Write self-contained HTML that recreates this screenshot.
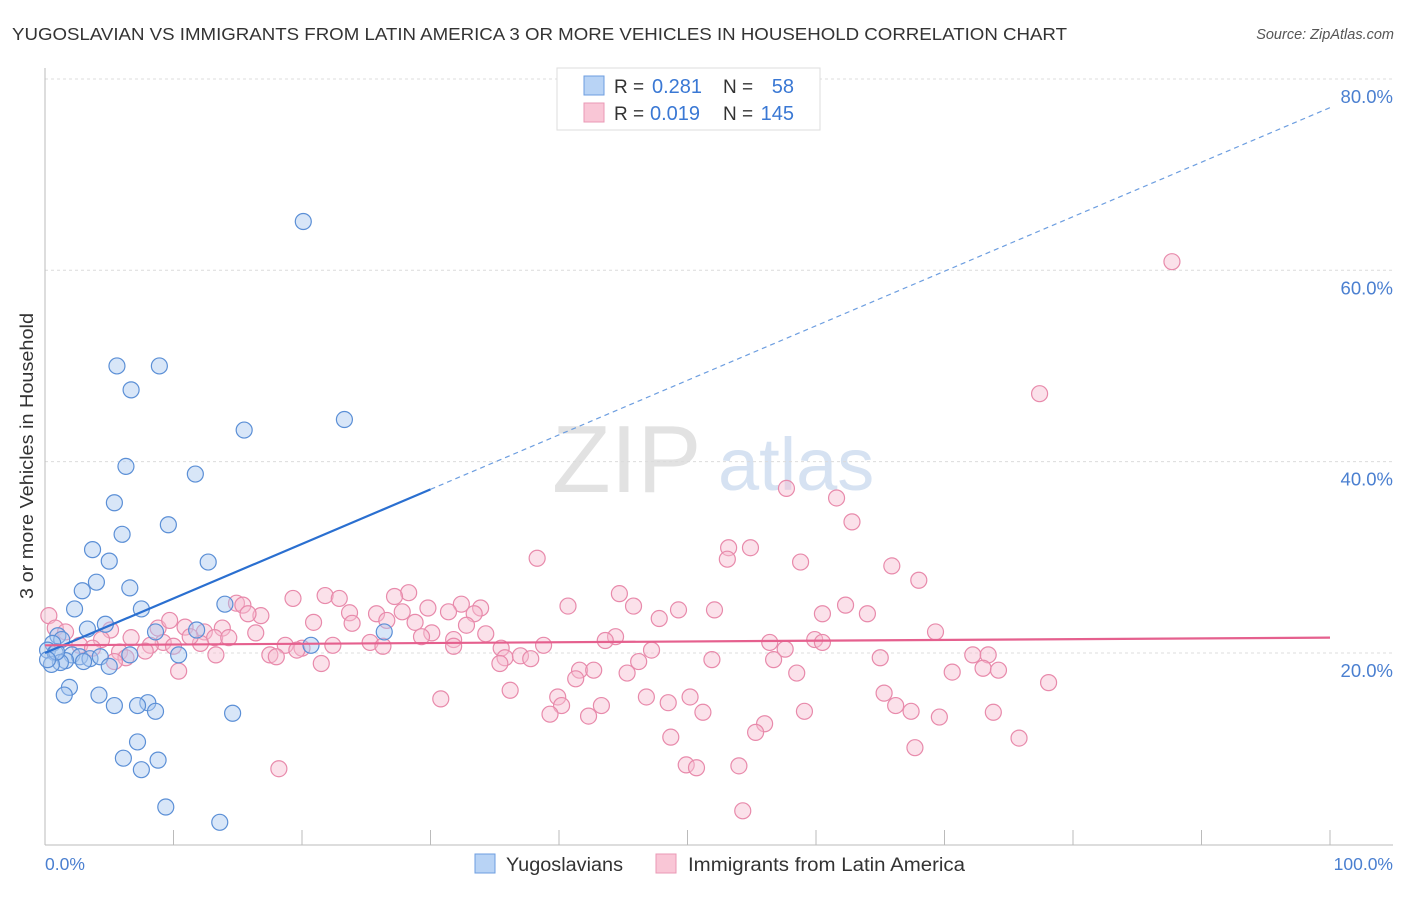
<!DOCTYPE html>
<html><head><meta charset="utf-8"><style>
body{margin:0;background:#fff;font-family:"Liberation Sans",sans-serif;}
svg text{font-family:"Liberation Sans",sans-serif;}
</style></head><body>
<svg width="1406" height="892" xmlns="http://www.w3.org/2000/svg">
<text x="12" y="40" font-size="17.5" fill="#333" textLength="1055" lengthAdjust="spacingAndGlyphs">YUGOSLAVIAN VS IMMIGRANTS FROM LATIN AMERICA 3 OR MORE VEHICLES IN HOUSEHOLD CORRELATION CHART</text>
<text x="1394" y="39" font-size="14.5" fill="#555" font-style="italic" text-anchor="end">Source: ZipAtlas.com</text>
<g>
<text x="552" y="492" font-size="96" fill="#e2e2e2" font-family="Liberation Serif, serif">ZIP</text>
<text x="718" y="490" font-size="74" fill="#d6e2f2">atlas</text>
</g>
<g id="grid"></g>
<g id="axes"></g>
<g id="pts"></g>
<g id="lines"></g>
<text x="33" y="456" font-size="18" fill="#333" text-anchor="middle" textLength="286" lengthAdjust="spacingAndGlyphs" transform="rotate(-90 33 456)">3 or more Vehicles in Household</text>
<text x="45" y="870" font-size="17.5" fill="#4a7fd0">0.0%</text>
<text x="1393" y="870" font-size="17.5" fill="#4a7fd0" text-anchor="end">100.0%</text>
<g>
<rect x="557" y="68" width="263" height="62" fill="#fff" stroke="#ddd"/>
<rect x="584" y="76" width="20" height="19" fill="#b8d3f5" stroke="#6d9ee0"/>
<rect x="584" y="103" width="20" height="19" fill="#f9c6d6" stroke="#ea98b5"/>
<text x="614" y="93" font-size="19" fill="#333">R =</text>
<text x="652" y="93" font-size="20" fill="#3a78d4">0.281</text>
<text x="723" y="93" font-size="19" fill="#333">N =</text>
<text x="794" y="93" font-size="20" fill="#3a78d4" text-anchor="end">58</text>
<text x="614" y="120" font-size="19" fill="#333">R =</text>
<text x="650" y="120" font-size="20" fill="#3a78d4">0.019</text>
<text x="723" y="120" font-size="19" fill="#333">N =</text>
<text x="794" y="120" font-size="20" fill="#3a78d4" text-anchor="end">145</text>
</g>
<g>
<rect x="475" y="854" width="20" height="19" fill="#b8d3f5" stroke="#6d9ee0"/>
<text x="506" y="871" font-size="19" fill="#333" textLength="117" lengthAdjust="spacingAndGlyphs">Yugoslavians</text>
<rect x="656" y="854" width="20" height="19" fill="#f9c6d6" stroke="#ea98b5"/>
<text x="688" y="871" font-size="19" fill="#333" textLength="277" lengthAdjust="spacingAndGlyphs">Immigrants from Latin America</text>
</g>
</svg>
<script>
const yTicks=[20,40,60,80];
const yTickLabels=["20.0%","40.0%","60.0%","80.0%"];
const xTicks=[10,20,30,40,50,60,70,80,90,100];
const blueX=[20.1,5.6,8.9,6.7,15.5,23.3,6.3,11.7,5.4,9.6,6.0,3.7,5.0,12.7,4.0,2.9,6.6,2.3,7.5,14.0,4.7,3.3,11.8,8.6,26.4,1.0,1.3,0.6,20.7,0.2,0.8,2.1,2.7,3.5,4.3,1.6,3.0,10.4,6.6,1.2,0.5,5.0,1.9,1.5,4.2,8.0,5.4,7.2,8.6,14.6,7.2,6.1,8.8,7.5,9.4,13.6,0.9,0.2];
const blueY=[65.1,50.0,50.0,47.5,43.3,44.4,39.5,38.7,35.7,33.4,32.4,30.8,29.6,29.5,27.4,26.5,26.8,24.6,24.6,25.1,23.0,22.5,22.4,22.2,22.2,21.8,21.4,21.0,20.8,20.3,20.0,19.8,19.6,19.4,19.6,19.2,19.1,19.8,19.8,19.0,18.8,18.6,16.4,15.6,15.6,14.8,14.5,14.5,13.9,13.7,10.7,9.0,8.8,7.8,3.9,2.3,20.1,19.3];
const pinkX=[87.7,77.4,57.7,61.6,62.8,53.2,54.9,53.1,38.3,58.8,65.9,68.0,44.7,28.3,21.8,19.3,27.2,22.9,40.7,45.8,62.3,32.4,33.9,29.8,52.1,49.3,60.5,64.0,14.9,15.4,16.8,15.8,23.7,25.8,27.8,31.4,33.4,47.8,23.9,20.9,26.6,28.8,32.8,0.3,0.8,1.6,5.1,8.8,10.9,12.4,13.8,16.4,30.1,34.3,44.4,69.3,4.4,6.7,9.2,13.2,25.3,29.3,31.8,43.6,56.4,59.9,60.5,2.7,3.7,8.2,10.0,12.1,18.7,20.0,22.4,26.3,31.8,38.8,5.8,7.8,17.5,19.6,35.5,47.2,57.6,72.2,73.4,6.3,13.3,18.0,35.8,37.0,37.8,51.9,56.7,65.0,46.2,21.5,35.4,5.4,73.0,74.2,10.4,41.6,42.7,45.3,58.5,70.6,41.3,78.1,36.2,65.3,39.9,46.8,50.2,30.8,40.2,48.5,66.2,67.4,43.3,51.2,59.1,73.8,39.3,42.3,69.6,56.0,55.3,48.7,75.8,67.7,49.9,50.7,54.0,18.2,54.3,9.7,11.3,14.3];
const pinkY=[60.9,47.1,37.2,36.2,33.7,31.0,31.0,29.8,29.9,29.5,29.1,27.6,26.2,26.3,26.0,25.7,25.9,25.7,24.9,24.9,25.0,25.1,24.7,24.7,24.5,24.5,24.1,24.1,25.2,25.0,23.9,24.1,24.2,24.1,24.3,24.3,24.1,23.6,23.1,23.2,23.4,23.2,22.9,23.9,22.6,22.2,22.4,22.6,22.7,22.2,22.6,22.1,22.1,22.0,21.7,22.2,21.4,21.6,21.1,21.6,21.1,21.7,21.4,21.3,21.1,21.4,21.1,20.8,20.5,20.8,20.7,21.0,20.8,20.5,20.8,20.7,20.7,20.8,20.1,20.2,19.8,20.3,20.5,20.3,20.4,19.8,19.8,19.5,19.8,19.6,19.5,19.7,19.4,19.3,19.3,19.5,19.1,18.9,18.9,19.1,18.4,18.2,18.1,18.2,18.2,17.9,17.9,18.0,17.3,16.9,16.1,15.8,15.4,15.4,15.4,15.2,14.5,14.8,14.5,13.9,14.5,13.8,13.9,13.8,13.6,13.4,13.3,12.6,11.7,11.2,11.1,10.1,8.3,8.0,8.2,7.9,3.5,23.4,21.7,21.6];
const blueFit=[20.0,0.57];
const pinkFit=[20.8,0.008];
const NS="http://www.w3.org/2000/svg";
function sx(v){return 45+v*12.85;}
function sy(v){return 844.3-v*9.567;}
function mk(t,a,p){const e=document.createElementNS(NS,t);for(const k in a)e.setAttribute(k,a[k]);p.appendChild(e);return e;}
const grid=document.getElementById('grid'),axes=document.getElementById('axes'),pts=document.getElementById('pts'),lines=document.getElementById('lines');
yTicks.forEach((t,i)=>{
 const l=mk('line',{x1:45,x2:1393,y1:sy(t),y2:sy(t),stroke:'#dcdcdc','stroke-dasharray':'3,3'},grid);
 
 
 const tx=mk('text',{x:1393,y:sy(t)+24,'font-size':18.5,fill:'#4a7fd0','text-anchor':'end'},grid);
 tx.textContent=yTickLabels[i];
 
 
});
const ax=mk('line',{x1:45,x2:1393,y1:845,y2:845,stroke:'#bbb'},axes);


const ay=mk('line',{x1:45,x2:45,y1:68,y2:845,stroke:'#bbb'},axes);


xTicks.forEach(t=>{
 const l=mk('line',{x1:sx(t),x2:sx(t),y1:830,y2:845,stroke:'#bbb'},axes);
 
 
});
function dots(X,Y,fill,stroke,name){
 X.forEach((x,i)=>{
  const c=mk('circle',{cx:sx(x),cy:sy(Y[i]),r:8,fill:fill,'fill-opacity':0.45,stroke:stroke,'stroke-width':1.2},pts);
  
  
 });
}
dots(pinkX,pinkY,'#f7bcd0','#e88aab','latin-america-point');
dots(blueX,blueY,'#a9c8f0','#5b8fd6','yugoslavian-point');
const b1=mk('line',{x1:sx(0),y1:sy(blueFit[0]),x2:sx(30),y2:sy(blueFit[0]+blueFit[1]*30),stroke:'#2a6fd0','stroke-width':2.2},lines);


const b2=mk('line',{x1:sx(30),y1:sy(blueFit[0]+blueFit[1]*30),x2:sx(100),y2:sy(blueFit[0]+blueFit[1]*100),stroke:'#6d9ee0','stroke-width':1.2,'stroke-dasharray':'5,4'},lines);


const p1=mk('line',{x1:sx(0),y1:sy(pinkFit[0]),x2:sx(100),y2:sy(pinkFit[0]+pinkFit[1]*100),stroke:'#e5608e','stroke-width':2.2},lines);


</script>
</body></html>
